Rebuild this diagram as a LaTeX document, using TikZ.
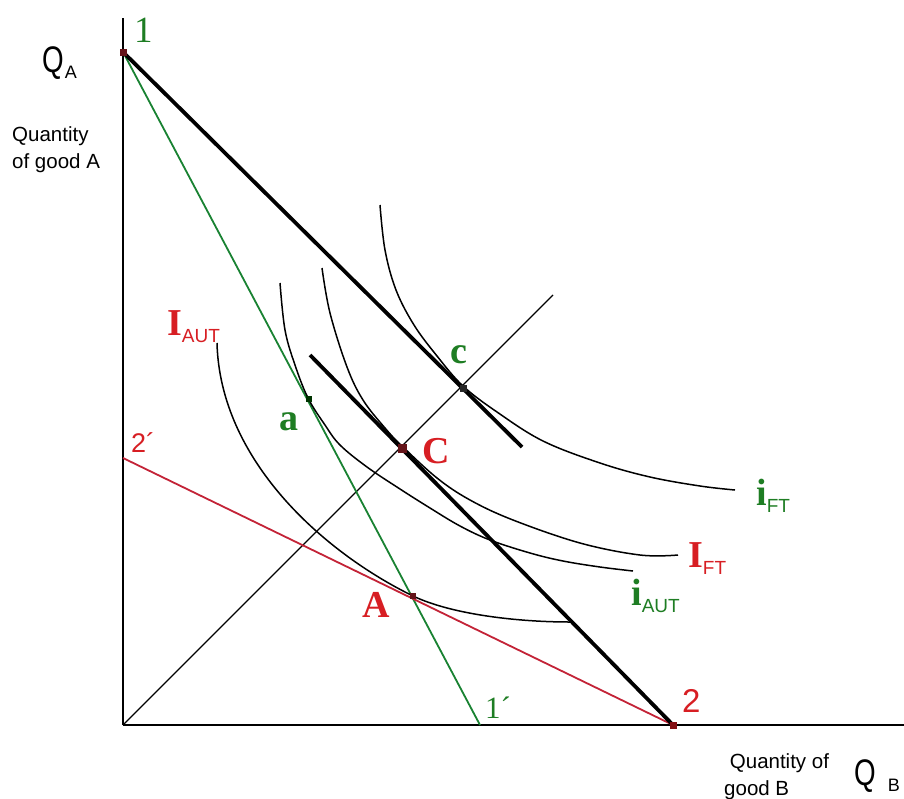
\documentclass[tikz,border=0pt]{standalone}
\usepackage{fontspec}
\setmainfont{Liberation Serif}
\setsansfont{Liberation Sans}
\definecolor{grn}{RGB}{30,125,35}
\definecolor{grnline}{RGB}{25,130,50}
\definecolor{rd}{RGB}{215,30,35}
\definecolor{rdline}{RGB}{195,35,55}
\definecolor{dotc}{RGB}{100,20,25}
\newcommand\lowsub[1]{\raisebox{-7pt}{\mdseries\sffamily\fontsize{19}{19}\selectfont #1}}
\begin{document}
\begin{tikzpicture}[x=1pt,y=-1pt,
  axis/.style={black,line width=2.4pt},
  budget/.style={black,line width=3.8pt},
  greenline/.style={grnline,line width=1.8pt},
  redline/.style={rdline,line width=1.8pt},
  diag/.style={black,line width=1.1pt},
  icurve/.style={black,line width=1.5pt},
  dotsq/.style={rectangle,fill=dotc,inner sep=0pt,minimum size=7pt},
  biglbl/.style={inner sep=0pt,anchor=base west,font=\bfseries\fontsize{38}{38}\selectfont},
  axtxt/.style={inner sep=0pt,anchor=base west,align=left,font=\sffamily\fontsize{20.5}{27}\selectfont}
]
\useasboundingbox (0,0) rectangle (904,798);

% coordinates
\coordinate (O) at (123,725);
\coordinate (ytop) at (123,18);
\coordinate (xend) at (904,725);
\coordinate (P1) at (123,52);
\coordinate (P2) at (673,725);
\coordinate (P1p) at (480,725);
\coordinate (P2p) at (123,458);
\coordinate (L1end) at (522,447);
\coordinate (L2start) at (310,355);
\coordinate (Dend) at (553,295);
\coordinate (Apt) at (413,596);

% axes
\draw[axis] (O) -- (ytop);
\draw[black,line width=1.8pt] (O) -- (xend);

% diagonal
\draw[diag] (O) -- (Dend);

% budget lines
\draw[greenline] (P1) -- (P1p);
\draw[redline] (P2p) -- (P2);
\draw[budget] (P1) -- (L1end);
\draw[budget] (L2start) -- (P2);

% indifference curves
\draw[icurve] plot[smooth,tension=0.6] coordinates {(380,205) (385,250) (396,290) (414,325) (437,356) (463,386) (497,412) (543,441) (600,463) (650,477) (700,486) (735,490)};
\draw[icurve] plot[smooth,tension=0.6] coordinates {(322,268) (330,313) (347,367) (363,400) (385,428) (402,446) (437,478) (470,500) (513,520) (580,543) (640,555) (678,555)};
\draw[icurve] plot[smooth,tension=0.6] coordinates {(280,283) (285,330) (295,365) (308,398) (325,425) (340,445) (367,467) (400,489) (430,508) (460,526) (490,540) (530,553) (563,561) (600,567) (633,571)};
\draw[icurve] (217,343) .. controls (220,460) and (323,552) .. (Apt)
  .. controls (453,615) and (520,622) .. (570,622);

% points
\node[dotsq] (d1) at (P1) {};
\node[dotsq,fill=dotc!80!red] (d2) at (P2) {};
\node[dotsq,minimum size=7pt,fill=black!85] (dc) at (463,388) {};
\node[dotsq,minimum size=9pt] (dC) at (402,448) {};
\node[dotsq,minimum size=6pt,fill=black!80!green] (da) at (309,399) {};
\node[dotsq,minimum size=6pt] (dA) at (Apt) {};

% point labels
\node[biglbl,text=grn] (lc) at (450,363) {c};
\node[biglbl,text=grn] (la) at (279,430) {a};
\node[biglbl,text=rd] (lC) at (422,463) {C};
\node[biglbl,text=rd] (lA) at (362,617) {A};

% curve labels
\node[biglbl,text=rd] (lIaut) at (167,335) {I\lowsub{AUT}};
\node[biglbl,text=grn] (lift) at (756,505) {i\lowsub{FT}};
\node[biglbl,text=rd] (lIft) at (688,567) {I\lowsub{FT}};
\node[biglbl,text=grn] (liaut) at (631,605) {i\lowsub{AUT}};

% intercept labels
\node[inner sep=0pt,anchor=base west,text=grn,font=\fontsize{37}{37}\selectfont] (l1) at (134,42) {1};
\node[inner sep=0pt,anchor=base west,text=grn,font=\fontsize{31}{31}\selectfont] (l1p) at (485,718) {1´};
\node[inner sep=0pt,anchor=base west,text=rd,font=\sffamily\fontsize{33}{33}\selectfont] (l2) at (682,712) {2};
\node[inner sep=0pt,anchor=base west,text=rd,font=\sffamily\fontsize{27}{27}\selectfont] (l2p) at (131,452) {2´};

% axis labels
\node[inner sep=0pt,anchor=base west,font=\sffamily\fontsize{37}{37}\selectfont] (QA) at (42,72) {\scalebox{0.75}[1]{Q}\hspace{1pt}\raisebox{-6pt}{\fontsize{18}{18}\selectfont A}};
\node[axtxt] (qa) at (12,168) {Quantity\\of good A};
\node[inner sep=0pt,anchor=base west,font=\sffamily\fontsize{37}{37}\selectfont] (QB) at (854,785) {\scalebox{0.75}[1]{Q}\hspace{12pt}\raisebox{-6pt}{\fontsize{18}{18}\selectfont B}};
\node[axtxt] (qb) at (724,795) {\ Quantity of\\good B};
\end{tikzpicture}
\end{document}
